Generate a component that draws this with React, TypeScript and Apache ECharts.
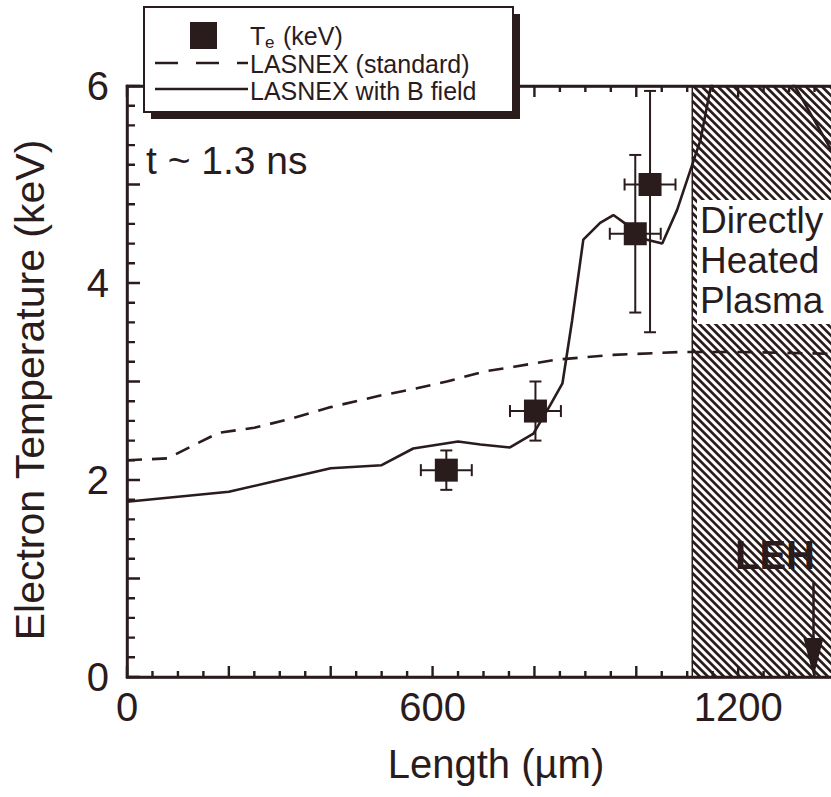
import React, { useEffect, useRef } from "react";
import * as echarts from "echarts";

const INK = "#2a1b1c";
const FONT = "'Liberation Sans', Arial, Helvetica, sans-serif";

// Axis extents, tick steps and labelled ticks
const X_MAX = 1400;
const Y_MAX = 6;
const X_MAJOR_STEP = 200;
const X_MINOR_STEP = 50;
const Y_MAJOR_STEP = 1;
const Y_MINOR_PER_MAJOR = 5;
const X_LABELS = [0, 600, 1200];
const Y_LABELS = [0, 2, 4, 6];

// LASNEX (standard) profile: length (µm) / Te (keV)
const stdLength = [0, 80, 130, 180, 250, 320, 400, 500, 560, 628, 700, 760, 840, 955, 1090, 1200, 1400];
const stdTe = [2.2, 2.22, 2.35, 2.48, 2.53, 2.62, 2.74, 2.86, 2.92, 3.0, 3.1, 3.15, 3.22, 3.27, 3.3, 3.3, 3.28];

// LASNEX with B field profile
const bLength = [0, 100, 200, 300, 400, 500, 562, 650, 694, 752, 798, 831, 855, 874, 896, 929, 955, 982, 1000, 1021, 1051, 1080, 1126, 1145, 1180, 1230, 1300, 1383, 1400];
const bTe = [1.78, 1.83, 1.88, 2.0, 2.12, 2.15, 2.32, 2.39, 2.36, 2.33, 2.47, 2.76, 2.98, 3.62, 4.44, 4.61, 4.69, 4.59, 4.5, 4.44, 4.4, 4.74, 5.45, 5.96, 6.6, 7.0, 6.1, 5.35, 5.2];

// Measured Te with error bars
const measLength = [627, 802, 998, 1027];
const measTe = [2.1, 2.7, 4.5, 5.0];
const measLengthErr = [50, 50, 50, 50];
const measTeLow = [1.9, 2.4, 3.7, 3.5];
const measTeHigh = [2.3, 3.0, 5.3, 5.95];

// Directly heated plasma region and laser entrance hole
const HATCH_START = 1110;
const HATCH_END = 1400;
const LEH_X = 1348;

const stdData = stdLength.map((x, i) => [x, stdTe[i]]);
const bData = bLength.map((x, i) => [x, bTe[i]]);
const measData = measLength.map((x, i) => [x, measTe[i]]);
const errData = measLength.map((x, i) => [x, measTe[i], measLengthErr[i], measTeLow[i], measTeHigh[i]]);

// tick positions along both axes
const xTicks: number[] = [];
for (let v = 0; v <= X_MAX; v += X_MINOR_STEP) xTicks.push(v);
const yTicks: number[] = [];
for (let i = 0; i <= Y_MAX * Y_MINOR_PER_MAJOR; i++) yTicks.push((i * Y_MAJOR_STEP) / Y_MINOR_PER_MAJOR);

const xAxisBase = {
  type: "value",
  min: 0,
  max: X_MAX,
  interval: X_MAJOR_STEP,
  axisLine: { show: true, lineStyle: { color: INK, width: 2.5 } },
  axisTick: { show: false },
  splitLine: { show: false },
};

// inward frame ticks drawn as one comb path per side
function frameItem(params: any, api: any) {
  const bottom: number[][] = [];
  const top: number[][] = [];
  xTicks.forEach((v) => {
    const len = v % X_MAJOR_STEP === 0 ? 11 : 6;
    const b = api.coord([v, 0]);
    const t = api.coord([v, Y_MAX]);
    bottom.push([b[0], b[1]], [b[0], b[1] - len], [b[0], b[1]]);
    top.push([t[0], t[1]], [t[0], t[1] + len], [t[0], t[1]]);
  });
  const left: number[][] = [];
  yTicks.forEach((v, i) => {
    const len = i % Y_MINOR_PER_MAJOR === 0 ? 13 : 8;
    const p = api.coord([0, v]);
    left.push([p[0], p[1]], [p[0] + len, p[1]], [p[0], p[1]]);
  });
  return {
    type: "group",
    children: [bottom, top, left].map((pts) => ({
      type: "polyline",
      shape: { points: pts },
      style: { stroke: INK, lineWidth: 2.4, fill: null },
    })),
  };
}

function hatchItem(params: any, api: any) {
  const children: any[] = [];
  const x0 = api.coord([api.value(0), 0])[0];
  const x1 = api.coord([api.value(2), 0])[0];
  const y0 = api.coord([0, Y_MAX])[1];
  const y1 = api.coord([0, 0])[1];
  const step = 8;
  // diagonal "\" stripes: screen x - y = c, clipped to the region
  for (let c = x0 - y1; c <= x1 - y0; c += step) {
    const ya = Math.max(y0, x0 - c);
    const yb = Math.min(y1, x1 - c);
    if (yb > ya) {
      children.push({
        type: "line",
        shape: { x1: c + ya, y1: ya, x2: c + yb, y2: yb },
        style: { stroke: INK, lineWidth: 2.6 },
      });
    }
  }
  children.push({
    type: "line",
    shape: { x1: x0, y1: y0, x2: x0, y2: y1 },
    style: { stroke: INK, lineWidth: 1.5 },
  });
  // LEH arrow
  const tip = api.coord([LEH_X, 0]);
  children.push({
    type: "line",
    shape: { x1: tip[0], y1: tip[1] - 94, x2: tip[0], y2: tip[1] - 30 },
    style: { stroke: INK, lineWidth: 2.5 },
  });
  children.push({
    type: "polygon",
    shape: { points: [[tip[0] - 10, tip[1] - 39], [tip[0] + 10, tip[1] - 39], [tip[0], tip[1]]] },
    style: { fill: INK },
  });
  return { type: "group", children };
}

function errItem(params: any, api: any) {
  const x = api.value(0);
  const y = api.value(1);
  const xe = api.value(2);
  const lo = api.value(3);
  const hi = api.value(4);
  const l = api.coord([x - xe, y]);
  const r = api.coord([x + xe, y]);
  const t = api.coord([x, hi]);
  const b = api.coord([x, lo]);
  const cap = 6;
  const st = { stroke: INK, lineWidth: 2 };
  return {
    type: "group",
    children: [
      { type: "line", shape: { x1: l[0], y1: l[1], x2: r[0], y2: r[1] }, style: st },
      { type: "line", shape: { x1: l[0], y1: l[1] - cap, x2: l[0], y2: l[1] + cap }, style: st },
      { type: "line", shape: { x1: r[0], y1: r[1] - cap, x2: r[0], y2: r[1] + cap }, style: st },
      { type: "line", shape: { x1: t[0], y1: t[1], x2: b[0], y2: b[1] }, style: st },
      { type: "line", shape: { x1: t[0] - cap, y1: t[1], x2: t[0] + cap, y2: t[1] }, style: st },
      { type: "line", shape: { x1: b[0] - cap, y1: b[1], x2: b[0] + cap, y2: b[1] }, style: st },
    ],
  };
}

const txt = (text: string, x: number, y: number, size: number, extra: any = {}) => ({
  type: "text",
  x,
  y,
  z: 100,
  style: {
    text,
    fill: INK,
    font: `${extra.weight || "normal"} ${size}px ${FONT}`,
    align: extra.align || "left",
    verticalAlign: "middle",
  },
  ...(extra.rotation ? { rotation: extra.rotation } : {}),
});

const option: any = {
  animation: false,
  backgroundColor: "#ffffff",
  grid: { left: 127, top: 86, bottom: 120, right: -9, outerBoundsMode: "none" },
  xAxis: [
    {
      ...xAxisBase,
      position: "bottom",
      axisLabel: {
        show: true,
        margin: 10,
        fontSize: 40,
        fontFamily: FONT,
        color: INK,
        formatter: (v: number) => (X_LABELS.includes(v) ? String(v) : ""),
      },
    },
    { ...xAxisBase, position: "top", axisLabel: { show: false } },
  ],
  yAxis: {
    type: "value",
    min: 0,
    max: Y_MAX,
    interval: Y_MAJOR_STEP,
    axisLine: { show: true, lineStyle: { color: INK, width: 2.5 } },
    axisTick: { show: false },
    splitLine: { show: false },
    axisLabel: {
      show: true,
      margin: 18,
      fontSize: 40,
      fontFamily: FONT,
      color: INK,
      formatter: (v: number) => (Y_LABELS.includes(v) ? String(v) : ""),
    },
  },
  series: [
    {
      type: "custom",
      z: 1,
      renderItem: frameItem,
      encode: { x: 0, y: 1 },
      data: [[0, 0]],
      silent: true,
    },
    {
      type: "custom",
      z: 2,
      renderItem: hatchItem,
      encode: { x: 0, y: 1 },
      data: [[HATCH_START, 0, HATCH_END]],
      silent: true,
    },
    {
      type: "line",
      name: "LASNEX (standard)",
      z: 3,
      data: stdData,
      symbol: "none",
      lineStyle: { color: INK, width: 2.6, type: [15, 10] },
    },
    {
      type: "line",
      name: "LASNEX with B field",
      z: 3,
      data: bData,
      symbol: "none",
      lineStyle: { color: INK, width: 2.6 },
    },
    {
      type: "custom",
      z: 4,
      renderItem: errItem,
      encode: { x: 0, y: 1 },
      data: errData,
    },
    {
      type: "scatter",
      name: "Te (keV)",
      z: 5,
      data: measData,
      symbol: "rect",
      symbolSize: 23,
      itemStyle: { color: INK, opacity: 1 },
    },
  ],
  graphic: {
    elements: [
      // legend box with drop shadow
      { type: "rect", z: 100, shape: { x: 151, y: 14, width: 369, height: 105 }, style: { fill: INK } },
      { type: "rect", z: 100, shape: { x: 144, y: 7, width: 369, height: 105 }, style: { fill: "#ffffff", stroke: INK, lineWidth: 2 } },
      { type: "rect", z: 100, shape: { x: 190, y: 22, width: 27, height: 27 }, style: { fill: INK } },
      { type: "line", z: 100, shape: { x1: 155, y1: 63, x2: 248, y2: 63 }, style: { stroke: INK, lineWidth: 2.6, lineDash: [23, 18] } },
      { type: "line", z: 100, shape: { x1: 155, y1: 89, x2: 248, y2: 89 }, style: { stroke: INK, lineWidth: 2.6 } },
      txt("T", 250, 36, 25),
      txt("e", 265, 42, 17),
      txt("(keV)", 283, 36, 25),
      txt("LASNEX (standard)", 250, 64, 25),
      txt("LASNEX with B field", 250, 91, 25),
      // annotations
      txt("t ~ 1.3 ns", 146, 160, 39),
      { type: "rect", z: 100, shape: { x: 697, y: 200, width: 140, height: 124 }, style: { fill: "#ffffff" } },
      txt("Directly", 700, 220, 37),
      txt("Heated", 700, 260, 37),
      txt("Plasma", 700, 300, 37),
      txt("LEH", 735, 555, 40, { weight: "bold" }),
      // axis titles
      txt("Electron Temperature (keV)", 30, 390, 41, { align: "center", rotation: Math.PI / 2 }),
      txt("Length (\u00b5m)", 496, 764, 40, { align: "center" }),
    ],
  },
};

export default function App() {
  const ref = useRef<HTMLDivElement>(null);
  useEffect(() => {
    const chart = echarts.init(ref.current!, null, { renderer: "svg" });
    chart.setOption(option);
    return () => chart.dispose();
  }, []);
  return (
    <div
      ref={ref}
      style={{ position: "fixed", left: 0, top: 0, width: 831, height: 797, background: "#ffffff" }}
    />
  );
}
